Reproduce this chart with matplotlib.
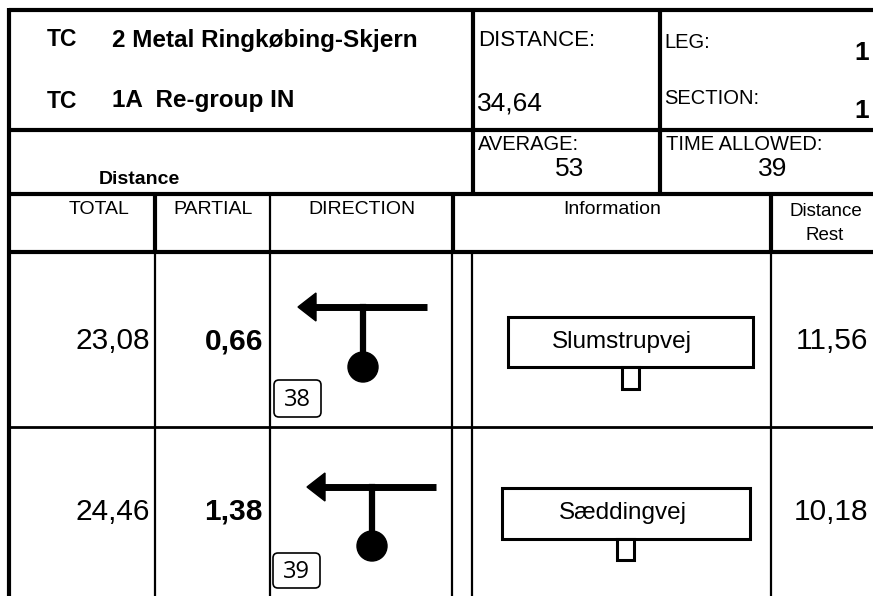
import matplotlib
matplotlib.use("Agg")
import matplotlib.pyplot as plt
from matplotlib.patches import Rectangle, Circle, Polygon, FancyBboxPatch

plt.rcParams['font.family'] = ['Liberation Sans', 'DejaVu Sans']

# ---- data ----
tc_codes = ["TC", "TC"]
tc_names = ["2 Metal Ringkøbing-Skjern", "1A  Re-group IN"]
stage_distance = 34.64
leg = 1
section = 1
average = 53
time_allowed = 39
col_headers = ["TOTAL", "PARTIAL", "DIRECTION", "Information"]

totals = [23.08, 24.46]
partials = [0.66, 1.38]
rest = [11.56, 10.18]
streets = ["Slumstrupvej", "Sæddingvej"]
tags = [38, 39]

# ---- layout (pixels, y down) ----
W, H = 873, 596
THICK, THIN = 3.0, 1.6


def km(v):
    return f"{v:.2f}".replace(".", ",")


fig = plt.figure(figsize=(W / 100, H / 100), dpi=100)
ax = fig.add_axes([0, 0, 1, 1])
ax.set_xlim(0, W)
ax.set_ylim(H, 0)
ax.axis("off")

# grid lines
for y in [10, 130, 194, 252]:
    ax.plot([9, W], [y, y], color="black", lw=THICK, solid_capstyle="butt")
ax.plot([9, 9], [8, H], color="black", lw=THICK, solid_capstyle="butt")
for x in [473, 660]:
    ax.plot([x, x], [10, 194], color="black", lw=THICK, solid_capstyle="butt")
for x in [155, 453, 771]:
    ax.plot([x, x], [194, 252], color="black", lw=THICK, solid_capstyle="butt")
ax.plot([270, 270], [194, 252], color="black", lw=THIN)
for x in [155, 270, 452, 472, 771]:
    ax.plot([x, x], [252, H], color="black", lw=THIN)
ax.plot([9, W], [427, 427], color="black", lw=THIN + 0.4)

# header block
for i, (code, name) in enumerate(zip(tc_codes, tc_names)):
    y = [40, 101][i]
    ax.text(47, y, code, fontsize=16.5, fontweight="bold", va="center")
    ax.text(112, y, name, fontsize=17.5, fontweight="bold", va="center")
ax.text(99, 180, "Distance", fontsize=14, fontweight="bold", va="center")

ax.text(478, 40, "DISTANCE:", fontsize=16, va="center")
ax.text(477, 103, km(stage_distance), fontsize=19, va="center")
ax.text(664, 42, "LEG:", fontsize=14.5, va="center")
ax.text(869, 53, str(leg), fontsize=19, fontweight="bold", va="center", ha="right")
ax.text(664, 98, "SECTION:", fontsize=14.5, va="center")
ax.text(869, 111, str(section), fontsize=19, fontweight="bold", va="center", ha="right")
ax.text(478, 145, "AVERAGE:", fontsize=14.5, va="center")
ax.text(569.5, 169, str(average), fontsize=19, va="center", ha="center")
ax.text(666, 145, "TIME ALLOWED:", fontsize=14.5, va="center")
ax.text(772.5, 169, str(time_allowed), fontsize=19, va="center", ha="center")

# column headers
for x, label in zip([99, 213, 362, 612], col_headers):
    ax.text(x, 210, label, fontsize=14, va="center", ha="center")
ax.text(826, 211, "Distance", fontsize=13.5, va="center", ha="center")
ax.text(825, 236, "Rest", fontsize=13.5, va="center", ha="center")

# rows
num_y = [341, 512]
arrow_y = [307, 487]
arrow_x = [(298, 427), (307, 436)]
stem_x = [363, 372]
dot_y = [367, 546]
tag_box = [(274, 380, 47, 37), (273, 553, 47, 35)]
info_box = [(508, 317, 245, 50), (502, 488, 248, 51)]
street_x = [622, 623]
sq_x = [622, 617]
sq_h = [22, 21]

for i in range(len(totals)):
    ax.text(150, num_y[i], km(totals[i]), fontsize=21.5, va="center", ha="right")
    ax.text(263, num_y[i], km(partials[i]), fontsize=21.5, fontweight="bold",
            va="center", ha="right")
    ax.text(868, num_y[i], km(rest[i]), fontsize=21.5, va="center", ha="right")

    # direction diagram: T junction, turn left
    x0, x1 = arrow_x[i]
    ay = arrow_y[i]
    ax.plot([x0 + 12, x1], [ay, ay], color="black", lw=5, solid_capstyle="butt")
    ax.add_patch(Polygon([[x0, ay], [x0 + 18, ay - 14], [x0 + 18, ay + 14]],
                         closed=True, color="black"))
    ax.plot([stem_x[i], stem_x[i]], [ay, dot_y[i]], color="black", lw=4.5)
    ax.add_patch(Circle((stem_x[i], dot_y[i]), 15, color="black"))

    bx, by, bw, bh = tag_box[i]
    ax.add_patch(FancyBboxPatch((bx, by), bw, bh,
                                boxstyle="round,pad=0,rounding_size=5",
                                fc="white", ec="black", lw=1.2))
    ax.text(bx + bw / 2, by + bh / 2 + 1, str(tags[i]), fontsize=17,
            va="center", ha="center", family="Open Sans")

    # street sign
    ix, iy, iw, ih = info_box[i]
    ax.add_patch(Rectangle((ix, iy), iw, ih, fc="white", ec="black", lw=2.2))
    ax.add_patch(Rectangle((sq_x[i], iy + ih), 17, sq_h[i], fc="white",
                           ec="black", lw=2.2))
    ax.text(street_x[i], iy + ih / 2, streets[i], fontsize=17.5,
            va="center", ha="center")

fig.savefig("out.png", dpi=100)
